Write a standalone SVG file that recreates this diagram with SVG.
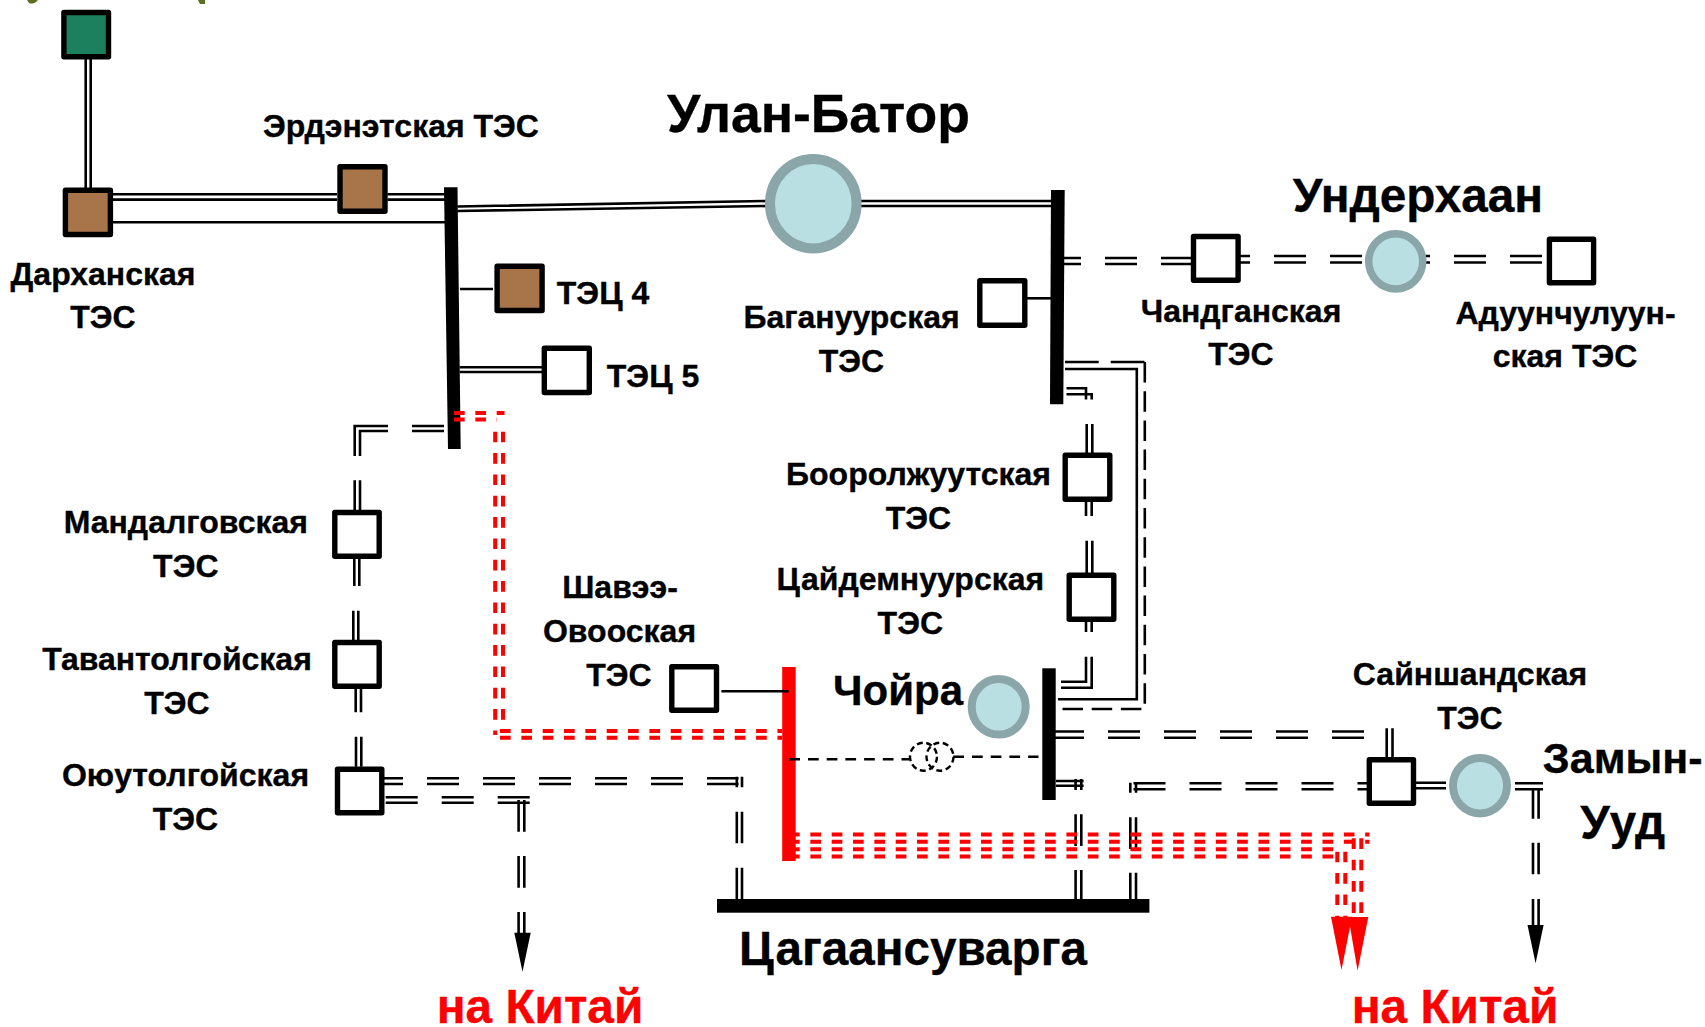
<svg xmlns="http://www.w3.org/2000/svg" width="1705" height="1027" viewBox="0 0 1705 1027">
<style>
text{font-family:"Liberation Sans",Arial,sans-serif;font-weight:700;fill:#000;stroke:#000;stroke-width:.35;text-anchor:middle}
.s{font-size:32px}
text.red{fill:#f00;stroke:#f00}
.box{stroke:#000;stroke-width:5.4;stroke-linejoin:round;fill:#fff}
.brown{fill:#a8744a}
.green{fill:#1c7f5e}
.city{fill:#b9dfe2;stroke:#8aa6a9}
.l{fill:none;stroke:#000;stroke-width:2.6}
.d{stroke-dasharray:32 24}
.r{fill:none;stroke:#f00;stroke-width:4;stroke-dasharray:10.67 10.67}
.t{fill:none;stroke:#000;stroke-width:2.6;stroke-dasharray:10.7 8}
.tr{fill:none;stroke:#000;stroke-width:2.4;stroke-dasharray:6 3.6}
</style>
<rect width="1705" height="1027" fill="#fff"/>
<path d="M27 0H38Q34 5 29 3Z M198 0H205V4H200Z" fill="#5c6e22"/>

<g id="bus-darkhan"><polygon points="444,187.3 457.5,187.3 460.7,449 448,449"/></g>
<g id="bus-ulanbator-east"><polygon points="1051,190 1064.7,190 1063.3,404.3 1050,404.3"/></g>
<g id="bus-choir"><rect x="1042.3" y="668.3" width="13.4" height="131.7"/></g>
<g id="bus-shavee"><rect x="782.2" y="667" width="13.5" height="194" fill="#f00"/></g>
<g id="bus-tsagaan"><rect x="717" y="899" width="432.4" height="13.7"/><text x="913" y="964.5" font-size="47.6">Цагаансуварга</text></g>

<g id="connectors">
<path class="l" d="M85.7 59V188M90.7 59V188"/>
<path class="l" d="M113 194.3H337M113 199.6H337"/>
<path class="l" d="M387.5 194.3H445M387.5 199.6H445"/>
<path class="l" d="M113 222.3H445"/>
<path class="l" d="M457.5 206.5L767 201M457.5 211L767 206"/>
<path class="l" d="M861 201H1052M861 206H1052"/>
<path class="l" d="M1027 298.3H1051"/>
<path class="l" d="M460 289H493"/>
<path class="l" d="M459.6 367.3H542M459.6 372H542"/>
<path class="l" d="M444 426H412M388 426H354.7V456M444 431H412M388 431H360V456M354.7 480.3V510M360 480.3V510"/>
<path class="l" d="M354.3 558.7V586M359.3 558.7V586M353.3 610.7V640M358.3 610.7V640"/>
<path class="l" d="M355.7 688.7V712.3M361 688.7V712.3M356 736.7V766.7M361.3 736.7V766.7"/>
<path class="l d" d="M371 778.3H738.6M371 784H738.6"/>
<path class="l" d="M736.8 776.7V787.3M742 776.7V787.3M736.8 811.7V843.3M742 811.7V843.3M736.8 867.7V899M742 867.7V899"/>
<path class="l d" d="M385.7 797.3H529.7M385.7 802.7H529.7"/>
<path class="l" d="M518.6 800V831.7M524.3 800V831.7M518.6 856V887.7M524.3 856V887.7M518.6 912V934M524.3 912V934"/>
<polygon points="514.3,932.7 530.7,932.7 522.5,971.7"/>
<path class="l d" stroke-dashoffset="4" d="M1053 258H1192M1053 264H1192"/>
<path class="l d" d="M1218 256H1364M1218 262.5H1364"/>
<path class="l d" d="M1398 256H1546M1398 262.5H1546"/>
<path class="l" d="M1065 369H1136.8V699.3H1058"/>
<path class="l" d="M1065 362H1098.7M1110.7 362H1144.5"/>
<path class="l" stroke-dasharray="20.5 8.7" d="M1144.8 362V709H1056"/>
<path class="l" d="M1066.5 388.3H1086V399.5M1066.5 394.3H1091.7V399.5"/>
<path class="l" d="M1086.7 424V453M1092.3 424V453M1086 501.7V516M1091.7 501.7V516M1086.7 540.7V573M1092.3 540.7V573M1086 621.7V632M1091.7 621.7V632"/>
<path class="l" d="M1086 656.7V681.7H1061M1091.7 656.7V687.7H1061"/>
<path class="l d" d="M1052 731.5H1364M1052 737.7H1364"/>
<path class="l" d="M1386.7 728.3V757.3M1392.5 728.3V757.3"/>
<path class="l" d="M1056 781H1083.6M1056 785.7H1083.6"/>
<path class="l" d="M1075.6 779V790M1081.3 779V790M1075.6 814.3V846M1081.3 814.3V846M1075.6 870V899M1081.3 870V899"/>
<path class="l" d="M1130.3 782.7V792.7M1136 782.7V792.7M1130.3 817.3V849M1136 817.3V849M1130.3 872.7V899M1136 872.7V899"/>
<path class="l d" d="M1133.5 783.3H1367M1133.5 789.3H1367"/>
<path class="l" d="M1416 782.7H1446M1416 788.3H1446"/>
<path class="l" d="M1515 783.3H1543M1515 789.3H1543"/>
<path class="l" d="M1533 788V818.7M1538.6 788V818.7M1533 842.7V874.3M1538.6 842.7V874.3M1533 899V926M1538.6 899V926"/>
<polygon points="1527.5,925 1543.6,925 1535.6,963.3"/>
<path class="l" d="M721.4 691.3H788.6"/>
<path class="t" d="M789.3 759.3H909.3"/>
<g id="transformer"><ellipse class="tr" cx="923.5" cy="756.7" rx="13.5" ry="14"/><ellipse class="tr" cx="940" cy="756.7" rx="13.5" ry="14"/></g>
<path class="t" d="M953.3 756.7H1038.5"/>
<path class="r" d="M454 413H504.5M454 419.5H497"/>
<path class="r" d="M495.2 431.7V735M503 431.7V728"/>
<path class="r" d="M500 731H782M500 737.7H782"/>
<path class="r" d="M789 834.5H1369.5M789 841.8H1369.5M789 849.3H1333.5M789 856.6H1333.5"/>
<path class="r" d="M1337.3 851.7V917M1345.3 851.7V917M1353.7 838.3V917M1361.3 838.3V917"/>
<polygon fill="#f00" points="1331,916.7 1352,916.7 1341.5,970"/>
<polygon fill="#f00" points="1348.4,917 1368.3,917 1357.6,970.7"/>
</g>

<g id="node-green"><rect class="box green" x="63.9" y="12.5" width="44.6" height="44.3"/></g>
<g id="node-darkhan"><rect class="box brown" x="65.4" y="190.2" width="45" height="44.3"/><text class="s" x="103" y="285">Дарханская</text><text class="s" x="103" y="328.3">ТЭС</text></g>
<g id="node-erdenet"><rect class="box brown" x="340" y="166.8" width="45" height="44.4"/><text class="s" x="401" y="137.3">Эрдэнэтская ТЭС</text></g>
<g id="node-tec4"><rect class="box brown" x="497.1" y="266.2" width="45" height="44.3"/><text class="s" x="603" y="303.5">ТЭЦ 4</text></g>
<g id="node-tec5"><rect class="box" x="544.3" y="348.2" width="45" height="44.3"/><text class="s" x="653" y="386.5">ТЭЦ 5</text></g>
<g id="node-baganuur"><rect class="box" x="979.8" y="280.8" width="45" height="44.4"/><text class="s" x="851.5" y="328.3">Багануурская</text><text class="s" x="851.5" y="371.7">ТЭС</text></g>
<g id="node-ulanbator"><ellipse class="city" stroke-width="10" cx="813.3" cy="203.7" rx="43.3" ry="44.7"/><text x="818.5" y="132.3" font-size="53.5">Улан-Батор</text></g>
<g id="node-chandgan"><rect class="box" x="1193.5" y="236.5" width="44.6" height="43.7"/><text class="s" x="1241" y="321.7">Чандганская</text><text class="s" x="1241" y="365">ТЭС</text></g>
<g id="node-underhan"><ellipse class="city" stroke-width="7.5" cx="1395.7" cy="261.3" rx="27" ry="27.6"/><text x="1418" y="211.7" font-size="47.7">Ундерхаан</text></g>
<g id="node-aduun"><rect class="box" x="1549.4" y="239.2" width="44.2" height="43.6"/><text class="s" x="1565.5" y="324">Адуунчулуун-</text><text class="s" x="1565" y="367.3">ская ТЭС</text></g>
<g id="node-boorol"><rect class="box" x="1065.2" y="455.2" width="44.6" height="44"/><text class="s" x="918.5" y="485">Бооролжуутская</text><text class="s" x="918.5" y="529.3">ТЭС</text></g>
<g id="node-tsaidem"><rect class="box" x="1069.2" y="575.2" width="44.6" height="44"/><text class="s" x="910.3" y="590.3">Цайдемнуурская</text><text class="s" x="910.3" y="634.3">ТЭС</text></g>
<g id="node-mandal"><rect class="box" x="334.8" y="512.5" width="44.4" height="43.7"/><text class="s" x="185.8" y="533.3">Мандалговская</text><text class="s" x="185.8" y="577.3">ТЭС</text></g>
<g id="node-tavan"><rect class="box" x="334.8" y="642.5" width="44.4" height="43.7"/><text class="s" x="177" y="670">Тавантолгойская</text><text class="s" x="177" y="714">ТЭС</text></g>
<g id="node-oyu"><rect class="box" x="337.5" y="769.2" width="44.3" height="43.6"/><text class="s" x="185.5" y="786">Оюутолгойская</text><text class="s" x="185.5" y="830">ТЭС</text></g>
<g id="node-shavee"><rect class="box" x="671.8" y="666.8" width="44.7" height="43.4"/><text class="s" x="620" y="598">Шавээ-</text><text class="s" x="619.5" y="642">Овооская</text><text class="s" x="619" y="686">ТЭС</text></g>
<g id="node-choir"><ellipse class="city" stroke-width="8" cx="998.7" cy="706.8" rx="27" ry="27.8"/><text x="898" y="705" font-size="42">Чойра</text></g>
<g id="node-sainshand"><rect class="box" x="1369.3" y="759.8" width="44.2" height="43.4"/><text class="s" x="1470" y="685">Сайншандская</text><text class="s" x="1470" y="729.3">ТЭС</text></g>
<g id="node-zamyn"><ellipse class="city" stroke-width="8" cx="1480" cy="785.7" rx="27" ry="27.7"/><text x="1622.7" y="773.3" font-size="43">Замын-</text><text x="1622.7" y="838.5" font-size="47.5">Ууд</text></g>
<g id="label-china-west"><text class="red" x="540" y="1023" font-size="47.8">на Китай</text></g>
<g id="label-china-east"><text class="red" x="1455" y="1023" font-size="47.8">на Китай</text></g>
</svg>
